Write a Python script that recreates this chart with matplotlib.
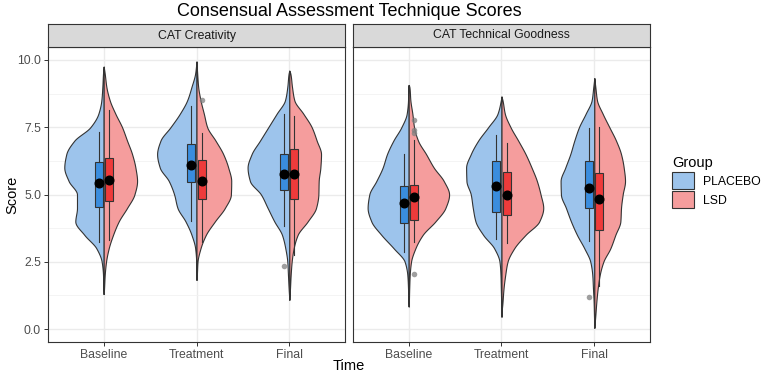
import numpy as np
import matplotlib
matplotlib.use('Agg')
import matplotlib.pyplot as plt
from matplotlib.patches import Patch

plt.rcParams['font.family'] = ['Liberation Sans', 'DejaVu Sans']

# ---- data ----
facets = ['CAT Creativity', 'CAT Technical Goodness']
times = ['Baseline', 'Treatment', 'Final']
groups = ['PLACEBO', 'LSD']

# violin half-widths (relative density) at score levels 0, 0.5, ... 10
levels = np.arange(0, 10.01, 0.5)
crea_base_pla = [0, 0, 0, 1, 2, 6, 22, 58, 85, 80, 80, 105, 118, 112, 88, 40, 16, 7, 4, 2, 0]
crea_base_lsd = [0, 0, 0, 1, 3, 7, 15, 28, 45, 70, 92, 100, 95, 85, 70, 55, 35, 18, 8, 3, 0]
crea_trt_pla = [0, 0, 0, 0, 0.5, 1, 4, 15, 33, 57, 67, 83, 110, 118, 108, 78, 50, 28, 15, 4, 0]
crea_trt_lsd = [0, 0, 0, 0, 1, 3, 12, 28, 55, 85, 103, 104, 95, 80, 57, 32, 22, 12, 5, 2, 0]
crea_fin_pla = [0, 0, 0, 2, 4, 6, 12, 22, 45, 65, 85, 118, 125, 113, 88, 63, 38, 13, 6, 2, 0]
crea_fin_lsd = [0, 0, 0, 2, 4, 7, 13, 25, 55, 80, 87, 88, 93, 95, 82, 67, 42, 15, 8, 3, 0]
tech_base_pla = [0, 0, 1, 2, 4, 12, 45, 82, 112, 123, 118, 97, 78, 65, 46, 22, 6, 2, 1, 0, 0]
tech_base_lsd = [0, 0, 0.5, 1.5, 3, 7, 20, 42, 80, 110, 121, 105, 75, 52, 28, 16, 11, 5, 2, 0, 0]
tech_trt_pla = [0, 0, 1, 2, 3, 6, 22, 55, 78, 86, 92, 105, 106, 92, 70, 40, 12, 2, 0, 0, 0]
tech_trt_lsd = [0, 0, 3, 6, 11, 18, 38, 72, 113, 125, 117, 106, 90, 72, 50, 27, 10, 3, 0, 0, 0]
tech_fin_pla = [0, 1, 2, 4, 6, 12, 30, 52, 70, 85, 100, 101, 87, 72, 60, 46, 26, 8, 3, 0, 0]
tech_fin_lsd = [0, 3, 6, 10, 16, 27, 48, 63, 78, 80, 85, 92, 88, 80, 65, 45, 25, 8, 3, 0, 0]

crea_tip_lo = [1.3, 1.83, 1.09]
crea_tip_hi = [9.75, 9.94, 9.6]
tech_tip_lo = [0.84, 0.47, 0.05]
tech_tip_hi = [9.07, 8.64, 9.32]

# box stats
crea_pla_q1 = [4.53, 5.47, 5.17]
crea_pla_q3 = [6.21, 6.88, 6.50]
crea_pla_lo = [3.22, 4.03, 3.84]
crea_pla_hi = [7.31, 8.29, 7.98]
crea_pla_mean = [5.42, 6.10, 5.75]
crea_pla_out = [[], [], [2.33]]
crea_lsd_q1 = [4.74, 4.83, 4.83]
crea_lsd_q3 = [6.35, 6.29, 6.70]
crea_lsd_lo = [3.3, 3.25, 2.76]
crea_lsd_hi = [8.14, 7.28, 7.9]
crea_lsd_mean = [5.54, 5.52, 5.75]
crea_lsd_out = [[], [8.51], []]

tech_pla_q1 = [3.94, 4.34, 4.50]
tech_pla_q3 = [5.32, 6.24, 6.25]
tech_pla_lo = [2.86, 3.34, 3.29]
tech_pla_hi = [6.51, 7.22, 7.46]
tech_pla_mean = [4.68, 5.32, 5.25]
tech_pla_out = [[], [], [1.21]]
tech_lsd_q1 = [4.06, 4.25, 3.69]
tech_lsd_q3 = [5.35, 5.84, 5.80]
tech_lsd_lo = [3.25, 3.2, 1.6]
tech_lsd_hi = [7.03, 6.93, 7.5]
tech_lsd_mean = [4.90, 4.98, 4.83]
tech_lsd_out = [[7.77, 7.4, 7.3, 2.05], [], []]

panels = [
    dict(dens=[[crea_base_pla, crea_base_lsd], [crea_trt_pla, crea_trt_lsd], [crea_fin_pla, crea_fin_lsd]],
         lo=crea_tip_lo, hi=crea_tip_hi,
         box=[(crea_pla_q1, crea_pla_q3, crea_pla_lo, crea_pla_hi, crea_pla_mean, crea_pla_out),
              (crea_lsd_q1, crea_lsd_q3, crea_lsd_lo, crea_lsd_hi, crea_lsd_mean, crea_lsd_out)]),
    dict(dens=[[tech_base_pla, tech_base_lsd], [tech_trt_pla, tech_trt_lsd], [tech_fin_pla, tech_fin_lsd]],
         lo=tech_tip_lo, hi=tech_tip_hi,
         box=[(tech_pla_q1, tech_pla_q3, tech_pla_lo, tech_pla_hi, tech_pla_mean, tech_pla_out),
              (tech_lsd_q1, tech_lsd_q3, tech_lsd_lo, tech_lsd_hi, tech_lsd_mean, tech_lsd_out)]),
]

violin_cols = ['#9DC4EC', '#F59D9D']
box_cols = ['#3A8DDE', '#EE3B3B']
dens_scale = 1 / 278.0


def pchip(x, y, xn):
    x = np.asarray(x, float)
    y = np.asarray(y, float)
    h = np.diff(x)
    d = np.diff(y) / h
    m = np.zeros_like(y)
    m[0], m[-1] = d[0], d[-1]
    for k in range(1, len(y) - 1):
        if d[k - 1] * d[k] > 0:
            w1 = 2 * h[k] + h[k - 1]
            w2 = h[k] + 2 * h[k - 1]
            m[k] = (w1 + w2) / (w1 / d[k - 1] + w2 / d[k])
    i = np.clip(np.searchsorted(x, xn) - 1, 0, len(x) - 2)
    t = (xn - x[i]) / h[i]
    h00 = 2 * t**3 - 3 * t**2 + 1
    h10 = t**3 - 2 * t**2 + t
    h01 = -2 * t**3 + 3 * t**2
    h11 = t**3 - t**2
    return h00 * y[i] + h10 * h[i] * m[i] + h01 * y[i + 1] + h11 * h[i] * m[i + 1]


fig = plt.figure(figsize=(7.62, 3.75), dpi=100)
W, H = 762, 375
panel_x = [48, 353]
pw = 297
top, bot = 47, 342

for p, (px, pan) in enumerate(zip(panel_x, panels)):
    ax = fig.add_axes([px / W, 1 - bot / H, pw / W, (bot - top) / H])
    sax = fig.add_axes([px / W, 1 - top / H, pw / W, 23 / H])
    sax.set_facecolor('#D9D9D9')
    sax.set_xticks([])
    sax.set_yticks([])
    for s in sax.spines.values():
        s.set_color('#333333')
        s.set_linewidth(0.8)
    sax.text(0.5, 0.5, facets[p], ha='center', va='center', fontsize=8.8, color='#1A1A1A',
             transform=sax.transAxes)

    xs = np.arange(1, len(times) + 1)
    for t in range(len(times)):
        lo, hi = pan['lo'][t], pan['hi'][t]
        for g in range(2):
            w = np.asarray(pan['dens'][t][g], float)
            keep = (levels > lo) & (levels < hi)
            vy = np.concatenate([[lo], levels[keep], [hi]])
            vw = np.concatenate([[0], w[keep], [0]])
            yy = np.linspace(lo, hi, 300)
            ww = np.clip(pchip(vy, vw, yy), 0, None) * dens_scale
            c = xs[t]
            if g == 0:
                ax.fill_betweenx(yy, c - ww, c, facecolor=violin_cols[0], edgecolor='#333333',
                                 linewidth=0.8, zorder=2)
            else:
                ax.fill_betweenx(yy, c, c + ww, facecolor=violin_cols[1], edgecolor='#333333',
                                 linewidth=0.8, zorder=2)

    for g in range(2):
        q1, q3, wlo, whi, mean, outl = pan['box'][g]
        stats = []
        for t in range(len(times)):
            stats.append(dict(q1=q1[t], q3=q3[t], med=mean[t], whislo=wlo[t], whishi=whi[t],
                              fliers=outl[t]))
        pos = xs + (-0.055 if g == 0 else 0.055)
        ax.bxp(stats, positions=pos, widths=0.085, patch_artist=True, manage_ticks=False,
               boxprops=dict(facecolor=box_cols[g], edgecolor='#333333', linewidth=0.8),
               whiskerprops=dict(color='#333333', linewidth=0.8),
               capprops=dict(linewidth=0),
               medianprops=dict(color='#333333', linewidth=0.8),
               flierprops=dict(marker='o', markersize=4, markerfacecolor='#7F7F7F',
                               markeredgecolor='none', alpha=0.75),
               zorder=3)
        ax.plot(pos, mean, 'o', color='black', markersize=6.2, zorder=5)

    ax.set_xlim(0.4, 3.6)
    ax.set_ylim(-0.48, 10.48)
    ax.set_xticks(xs)
    ax.set_xticklabels(times)
    ax.set_yticks([0, 2.5, 5, 7.5, 10])
    ax.set_yticks([1.25, 3.75, 6.25, 8.75], minor=True)
    ax.set_yticklabels(['0.0', '2.5', '5.0', '7.5', '10.0'])
    ax.grid(True, which='major', color='#EBEBEB', linewidth=1.0, zorder=0)
    ax.grid(True, which='minor', axis='y', color='#F2F2F2', linewidth=0.6, zorder=0)
    ax.set_axisbelow(True)
    ax.tick_params(axis='both', which='major', colors='#333333', labelcolor='#4D4D4D',
                   labelsize=8.8, length=3, width=0.7, pad=2)
    ax.tick_params(axis='y', which='minor', length=0)
    if p == 1:
        ax.tick_params(axis='y', which='both', left=False, labelleft=False)
    for s in ax.spines.values():
        s.set_color('#333333')
        s.set_linewidth(0.8)

fig.text(349 / W, 1 - 12 / H, 'Consensual Assessment Technique Scores', ha='center', va='center',
         fontsize=13, color='black')
fig.text(349 / W, 1 - 366 / H, 'Time', ha='center', va='center', fontsize=10.5)
fig.text(12 / W, 1 - 195 / H, 'Score', ha='center', va='center', rotation=90, fontsize=10.5)

handles = [Patch(facecolor=violin_cols[i], edgecolor='#333333', linewidth=0.8) for i in range(2)]
fig.legend(handles, groups, title='Group', loc='upper left', bbox_to_anchor=(672 / W, 1 - 156 / H),
           frameon=False, fontsize=8.8, title_fontsize=10.5, handlelength=1.8, handleheight=1.7,
           labelspacing=0.2, handletextpad=0.7, borderpad=0, borderaxespad=0, alignment='left')

fig.savefig('out.png', dpi=100)
